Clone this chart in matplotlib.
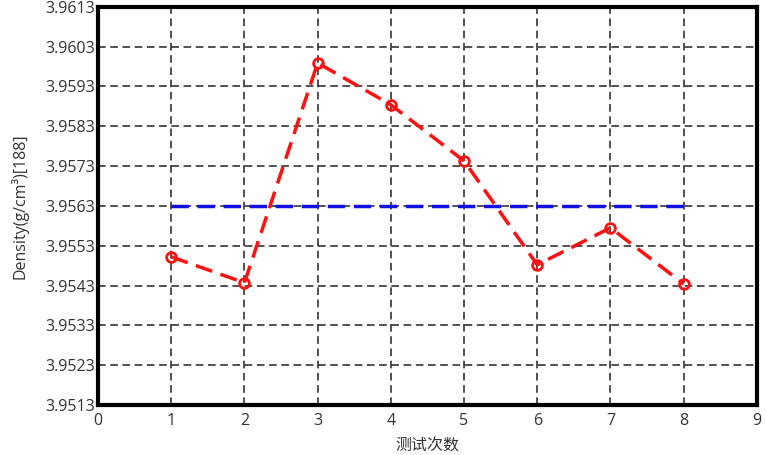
import matplotlib.pyplot as plt
import numpy as np

plt.rcParams['font.family'] = ['Open Sans', 'Noto Sans CJK SC', 'DejaVu Sans']

# measurement index and density values
runs = [1, 2, 3, 4, 5, 6, 7, 8]
density = [3.95502, 3.95437, 3.95989, 3.95884, 3.95743, 3.95482, 3.95575, 3.95434]
mean_density = 3.9563

x_ticks = list(range(0, 10))
y_ticks = [3.9513, 3.9523, 3.9533, 3.9543, 3.9553, 3.9563, 3.9573, 3.9583, 3.9593, 3.9603, 3.9613]

fig = plt.figure(figsize=(7.66, 4.55), dpi=100)
ax = fig.add_axes([0.128, 0.110, 0.860, 0.875])

ax.plot([runs[0], runs[-1]], [mean_density, mean_density], color='#1010e0',
        linestyle=(0, (5, 2.5)), linewidth=2.5, zorder=3)
ax.plot(runs, density, color='#ff1010', linestyle=(0, (5, 2.5)), linewidth=2.5,
        marker='o', markersize=7, markerfacecolor='none', markeredgecolor='#ff1010',
        markeredgewidth=2, zorder=4)

ax.set_xlim(0, 9)
ax.set_ylim(3.9513, 3.9613)
ax.set_xticks(x_ticks)
ax.set_yticks(y_ticks)
ax.set_yticklabels([f"{v:.4f}" for v in y_ticks])
ax.tick_params(length=0, labelsize=11.5, colors='#333333')
ax.tick_params(axis='x', pad=6)
ax.tick_params(axis='y', pad=2)
ax.grid(True, color='#222222', linestyle=(0, (5, 3)), linewidth=1.1)
for s in ax.spines.values():
    s.set_linewidth(3)
    s.set_color('black')

ax.set_xlabel('测试次数', fontsize=11.5, color='#333333', labelpad=7)
ax.set_ylabel('Density(g/cm³)[188]', fontsize=11.5, color='#333333', labelpad=12)

fig.savefig('out.png', dpi=100)
